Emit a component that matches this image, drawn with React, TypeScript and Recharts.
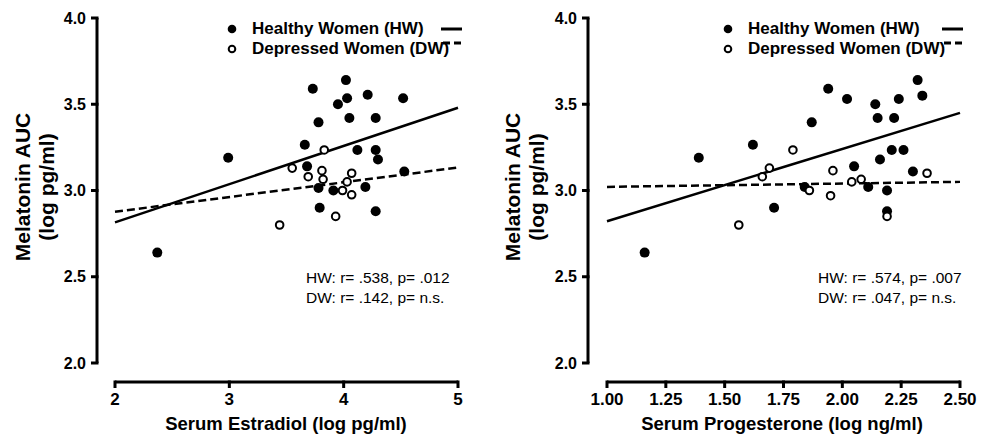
import React from 'react'
import { ScatterChart, Scatter, XAxis, YAxis } from 'recharts'

const FONT = '"Liberation Sans", Arial, Helvetica, sans-serif'

// left panel: serum estradiol vs melatonin AUC
const estradiolHW = [
  { x: 3.73, y: 3.59 }, { x: 4.02, y: 3.64 }, { x: 4.03, y: 3.535 }, { x: 3.95, y: 3.5 },
  { x: 4.21, y: 3.555 }, { x: 4.52, y: 3.535 }, { x: 3.78, y: 3.395 }, { x: 4.05, y: 3.42 },
  { x: 4.28, y: 3.42 }, { x: 3.66, y: 3.265 }, { x: 2.99, y: 3.19 }, { x: 4.12, y: 3.235 },
  { x: 4.28, y: 3.235 }, { x: 4.3, y: 3.18 }, { x: 3.68, y: 3.14 }, { x: 4.53, y: 3.11 },
  { x: 3.78, y: 3.015 }, { x: 3.91, y: 3.0 }, { x: 4.19, y: 3.02 }, { x: 3.79, y: 2.9 },
  { x: 4.28, y: 2.88 }, { x: 2.37, y: 2.64 },
]
const estradiolDW = [
  { x: 3.83, y: 3.235 }, { x: 3.55, y: 3.13 }, { x: 3.69, y: 3.08 }, { x: 3.81, y: 3.115 },
  { x: 3.82, y: 3.065 }, { x: 4.07, y: 3.1 }, { x: 4.03, y: 3.05 }, { x: 3.99, y: 3.0 },
  { x: 4.07, y: 2.975 }, { x: 3.93, y: 2.85 }, { x: 3.44, y: 2.8 },
]
const estradiolHWFit = [{ x: 2, y: 2.815 }, { x: 5, y: 3.48 }]
const estradiolDWFit = [{ x: 2, y: 2.877 }, { x: 5, y: 3.133 }]
const estradiolTicks = [2, 3, 4, 5]

// right panel: serum progesterone vs melatonin AUC
const progesteroneHW = [
  { x: 1.94, y: 3.59 }, { x: 2.02, y: 3.53 }, { x: 2.32, y: 3.64 }, { x: 2.34, y: 3.55 },
  { x: 2.14, y: 3.5 }, { x: 2.24, y: 3.53 }, { x: 2.15, y: 3.42 }, { x: 2.22, y: 3.42 },
  { x: 1.87, y: 3.395 }, { x: 1.62, y: 3.265 }, { x: 1.39, y: 3.19 }, { x: 2.21, y: 3.235 },
  { x: 2.26, y: 3.235 }, { x: 2.16, y: 3.18 }, { x: 2.05, y: 3.14 }, { x: 2.3, y: 3.11 },
  { x: 1.84, y: 3.02 }, { x: 2.11, y: 3.02 }, { x: 2.19, y: 3.0 }, { x: 1.71, y: 2.9 },
  { x: 2.19, y: 2.88 }, { x: 1.16, y: 2.64 },
]
const progesteroneDW = [
  { x: 1.79, y: 3.235 }, { x: 1.69, y: 3.13 }, { x: 1.66, y: 3.08 }, { x: 1.96, y: 3.115 },
  { x: 2.36, y: 3.1 }, { x: 2.04, y: 3.05 }, { x: 2.08, y: 3.065 }, { x: 1.86, y: 3.0 },
  { x: 1.95, y: 2.97 }, { x: 2.19, y: 2.85 }, { x: 1.56, y: 2.8 },
]
const progesteroneHWFit = [{ x: 1, y: 2.822 }, { x: 2.5, y: 3.45 }]
const progesteroneDWFit = [{ x: 1, y: 3.021 }, { x: 2.5, y: 3.05 }]
const progesteroneTicks = [1.0, 1.25, 1.5, 1.75, 2.0, 2.25, 2.5]

const melatoninTicks = [2.0, 2.5, 3.0, 3.5, 4.0]
const legendLabels = ['Healthy Women (HW)', 'Depressed Women (DW)']

const FilledDot = (p: any) => <circle cx={p.cx} cy={p.cy} r={5} fill="#000" />
const OpenDot = (p: any) => (
  <circle cx={p.cx} cy={p.cy} r={3.8} fill="#fff" stroke="#000" strokeWidth={2} />
)
const NoDot = () => <g />

const TICK_GAP = 11 // tick mark + space before label
const AXIS_LINE = { stroke: '#000', strokeWidth: 3 }
const HW_FIT_LINE = { stroke: '#000', strokeWidth: 2.5 }
const DW_FIT_LINE = { stroke: '#000', strokeWidth: 2.5, strokeDasharray: '8 4' }
const fmtInt = (v: number) => String(v)
const fmt2 = (v: number) => v.toFixed(2)

// tick marks drawn as small rects with the label
const makeXTick = (fmt: (v: number) => string) => (p: any) => (
  <g>
    <rect x={p.x - 1.5} y={p.y - TICK_GAP - 1.5} width={3} height={7.5} fill="#000" />
    <text
      x={p.x}
      y={p.y}
      dy="0.71em"
      textAnchor="middle"
      fontFamily={FONT}
      fontWeight="bold"
      fontSize={17}
      fill="#000"
    >
      {fmt(p.payload.value)}
    </text>
  </g>
)

const YTick = (p: any) => (
  <g>
    <rect x={p.x + 5} y={p.y - 1.5} width={TICK_GAP - 5 + 1.5} height={3} fill="#000" />
    <text
      x={p.x}
      y={p.y}
      dy="0.355em"
      textAnchor="end"
      fontFamily={FONT}
      fontWeight="bold"
      fontSize={16}
      fill="#000"
    >
      {Number(p.payload.value).toFixed(1)}
    </text>
  </g>
)

interface PanelProps {
  left: number
  width: number
  hw: { x: number; y: number }[]
  dw: { x: number; y: number }[]
  hwFit: { x: number; y: number }[]
  dwFit: { x: number; y: number }[]
  xTicks: number[]
  xFmt: (v: number) => string
  plotLeft: number
  plotRight: number
  axisGap: number
  xTitle: string
  xTitleCenter: number
  stats: string[]
  statsLeft: number
  legendLeft: number
  symbolLeft: number
}

function Panel(props: PanelProps) {
  const { left, width, hw, dw, hwFit, dwFit, xTicks, xFmt, plotLeft, plotRight, axisGap, xTitle, stats } = props
  const xFirst = xTicks[0]
  const xLast = xTicks[xTicks.length - 1]
  const plotTop = 18
  const plotBottom = 363
  const xTick = React.useMemo(() => makeXTick(xFmt), [xFmt])

  return (
    <div style={{ position: 'absolute', left, top: 0, width, height: 437 }}>
      <ScatterChart
        width={width}
        height={437}
        margin={{
          top: plotTop,
          right: width - plotRight,
          bottom: 437 - plotBottom - 19 - 30,
          left: plotLeft - axisGap - 60,
        }}
      >
        <XAxis
          xAxisId="zmain"
          type="number"
          dataKey="x"
          domain={[xFirst, xLast]}
          ticks={xTicks}
          axisLine={AXIS_LINE}
          tickLine={false}
          tickSize={0}
          tickMargin={TICK_GAP}
          tick={xTick}
          height={30}
        />
        <YAxis
          yAxisId="zmain"
          type="number"
          dataKey="y"
          domain={[2, 4]}
          ticks={melatoninTicks}
          axisLine={AXIS_LINE}
          tickLine={false}
          tickSize={0}
          tickMargin={TICK_GAP}
          tick={YTick}
          width={60}
        />
        {/* empty spacer axes sit next to the plot and push the real axes out (detached axes) */}
        <XAxis xAxisId="apad" type="number" domain={[0, 1]} height={19} axisLine={false} tickLine={false} tick={false} />
        <YAxis yAxisId="apad" type="number" domain={[0, 1]} width={axisGap} axisLine={false} tickLine={false} tick={false} />
        <Scatter xAxisId="zmain" yAxisId="zmain" data={hwFit} line={HW_FIT_LINE} shape={NoDot} isAnimationActive={false} />
        <Scatter xAxisId="zmain" yAxisId="zmain" data={dwFit} line={DW_FIT_LINE} shape={NoDot} isAnimationActive={false} />
        <Scatter xAxisId="zmain" yAxisId="zmain" data={hw} shape={FilledDot} isAnimationActive={false} />
        <Scatter xAxisId="zmain" yAxisId="zmain" data={dw} shape={OpenDot} isAnimationActive={false} />
      </ScatterChart>

      {/* y axis title */}
      {['Melatonin AUC', '(log pg/ml)'].map((t, i) => (
        <div
          key={t}
          style={{
            position: 'absolute',
            left: 23 + i * 24,
            top: 187,
            transform: 'translate(-50%, -50%) rotate(-90deg)',
            whiteSpace: 'nowrap',
            fontFamily: FONT,
            fontWeight: 'bold',
            fontSize: 21,
            lineHeight: '22px',
          }}
        >
          {t}
        </div>
      ))}

      {/* x axis title */}
      <div
        style={{
          position: 'absolute',
          left: props.xTitleCenter,
          top: 424,
          transform: 'translate(-50%, -50%)',
          fontFamily: FONT,
          fontWeight: 'bold',
          fontSize: 18.5,
          lineHeight: '22px',
          whiteSpace: 'nowrap',
        }}
      >
        {xTitle}
      </div>

      {/* legend */}
      {legendLabels.map((t, i) => (
        <div
          key={t}
          style={{
            position: 'absolute',
            left: props.legendLeft,
            top: 19 + i * 20,
            height: 20,
            display: 'flex',
            alignItems: 'center',
            fontFamily: FONT,
            fontWeight: 'bold',
            fontSize: 17,
            lineHeight: '20px',
            whiteSpace: 'nowrap',
          }}
        >
          <svg width={12} height={12} style={{ marginRight: 14 }}>
            {i === 0 ? (
              <circle cx={6} cy={6} r={4.3} fill="#000" />
            ) : (
              <circle cx={6} cy={6} r={3.3} fill="#fff" stroke="#000" strokeWidth={2} />
            )}
          </svg>
          {t}
        </div>
      ))}
      <svg
        width={24}
        height={24}
        style={{ position: 'absolute', left: props.symbolLeft, top: 24 }}
      >
        <line x1={0} y1={5} x2={21} y2={5} stroke="#000" strokeWidth={3} />
        <line x1={2} y1={19} x2={22} y2={19} stroke="#000" strokeWidth={3} strokeDasharray="7 4" />
      </svg>

      {/* stats */}
      {stats.map((s, i) => (
        <div
          key={s}
          style={{
            position: 'absolute',
            left: props.statsLeft,
            top: 268 + i * 20,
            fontFamily: FONT,
            fontSize: 15.5,
            lineHeight: '20px',
            whiteSpace: 'nowrap',
          }}
        >
          {s}
        </div>
      ))}
    </div>
  )
}

const estradiolStats = ['HW: r= .538, p= .012', 'DW: r= .142, p= n.s.']
const progesteroneStats = ['HW: r= .574, p= .007', 'DW: r= .047, p= n.s.']

export default function App() {
  return (
    <div
      style={{
        position: 'absolute',
        left: 0,
        top: 0,
        width: 987,
        height: 437,
        background: '#fff',
        overflow: 'hidden',
      }}
    >
      <Panel
        left={0}
        width={490}
        hw={estradiolHW}
        dw={estradiolDW}
        hwFit={estradiolHWFit}
        dwFit={estradiolDWFit}
        xTicks={estradiolTicks}
        xFmt={fmtInt}
        plotLeft={115}
        plotRight={458}
        axisGap={18}
        xTitle="Serum Estradiol (log pg/ml)"
        xTitleCenter={286}
        stats={estradiolStats}
        statsLeft={306}
        legendLeft={226}
        symbolLeft={441}
      />
      <Panel
        left={490}
        width={497}
        hw={progesteroneHW}
        dw={progesteroneDW}
        hwFit={progesteroneHWFit}
        dwFit={progesteroneDWFit}
        xTicks={progesteroneTicks}
        xFmt={fmt2}
        plotLeft={117}
        plotRight={470}
        axisGap={19}
        xTitle="Serum Progesterone (log ng/ml)"
        xTitleCenter={292}
        stats={progesteroneStats}
        statsLeft={328}
        legendLeft={232}
        symbolLeft={452}
      />
    </div>
  )
}
